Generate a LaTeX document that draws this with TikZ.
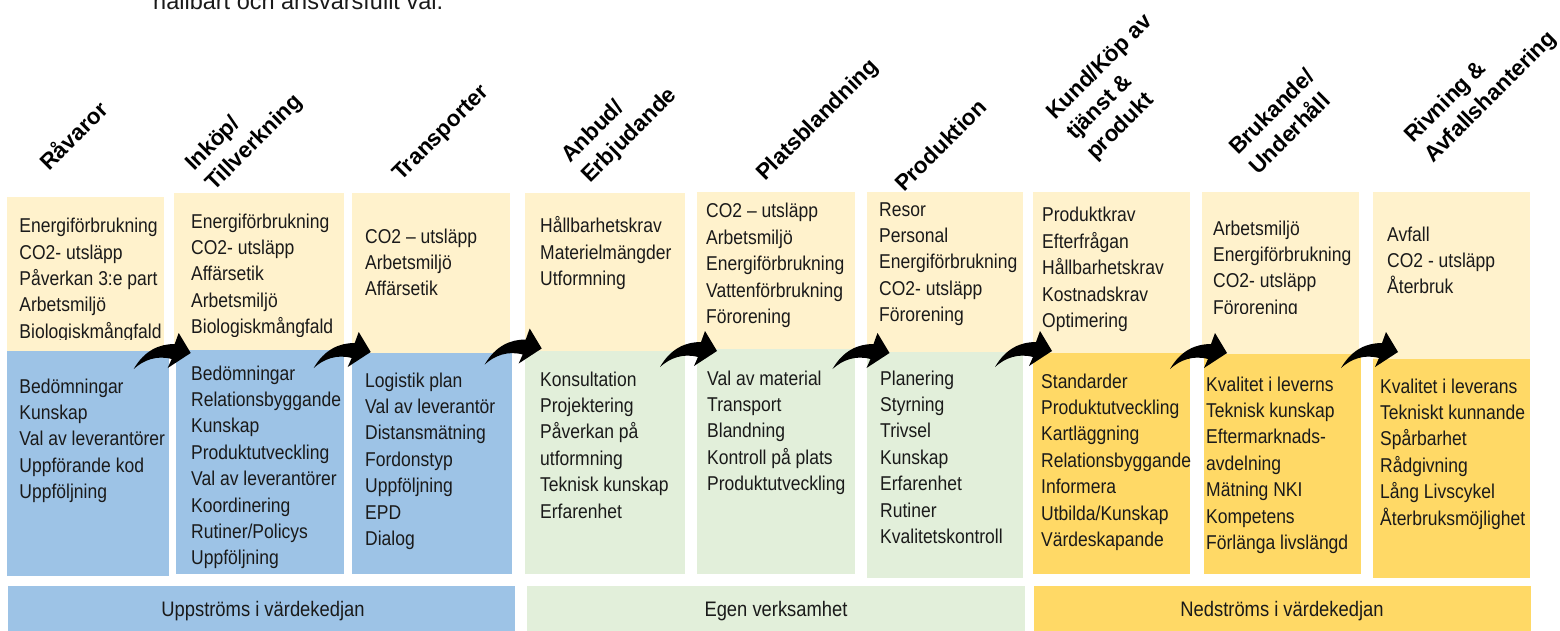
\documentclass[tikz,border=0pt]{standalone}
\usepackage{fontspec}
\setmainfont{Liberation Sans}[FakeStretch=0.875]
\newfontfamily\plainfont{Liberation Sans}
\definecolor{ylw}{HTML}{FFF2CC}
\definecolor{blu}{HTML}{9DC3E6}
\definecolor{grn}{HTML}{E2EFDA}
\definecolor{gld}{HTML}{FFD966}
\definecolor{ink}{HTML}{1A1A1A}
\newcommand\panel[6]{\node[panel, fill=#6, minimum width={(#4-#2)*1pt}, minimum height={(#5-#3)*1pt}] (#1) at (#2,#3) {};}
\newcommand\items[4]{\node[items] (#1) at (#2,#3) {\begin{tabular}[t]{@{}l@{}}#4\end{tabular}};}
\newcommand\curvedarrow[1]{\fill[arrowfill, shift={(#1)}] (-57,16) .. controls (-46,-3) and (-31,-9) .. (-16,-9) -- (-12,-20) -- (0,0) -- (-23,15) -- (-19,6) .. controls (-34,2) and (-47,7) .. (-57,16) -- cycle;}
\begin{document}
\begin{tikzpicture}[x=1pt,y=-1pt,
  panel/.style={rectangle, draw=none, inner sep=0pt, outer sep=0pt, anchor=north west},
  items/.style={anchor=base west, inner sep=0pt, text=ink, font=\fontsize{20}{26.4}\selectfont},
  hdr/.style={anchor=base west, inner sep=0pt, rotate=45, text=black, font=\plainfont\bfseries\fontsize{22.5}{28}\selectfont},
  band/.style={anchor=base, inner sep=0pt, text=ink, font=\fontsize{21}{25}\selectfont},
  arrowfill/.style={fill=black}]
\useasboundingbox[fill=white] (0,0) rectangle (1560,631);

% clipped caption at top
\node[anchor=base west, inner sep=0pt, text=ink, font=\plainfont\fontsize{23.5}{28}\selectfont] (caption) at (153,10) {hållbart och ansvarsfullt val.};

% headers
\node[hdr] (h1) at (49,172) {Råvaror};
\node[hdr] (h2a) at (194,172) {Inköp/};
\node[hdr] (h2b) at (214,192) {Tillverkning};
\node[hdr] (h3) at (401,182) {Transporter};
\node[hdr] (h4a) at (570,164) {Anbud/};
\node[hdr] (h4b) at (590,184) {Erbjudande};
\node[hdr] (h5) at (765,182) {Platsblandning};
\node[hdr] (h6) at (904,193) {Produktion};
\node[hdr] (h7a) at (1055,121) {Kund/Köp av};
\node[hdr] (h7b) at (1075,141) {tjänst \&};
\node[hdr] (h7c) at (1095,161) {produkt};
\node[hdr] (h8a) at (1238,156) {Brukande/};
\node[hdr] (h8b) at (1258,176) {Underhåll};
\node[hdr] (h9a) at (1413,144) {Rivning \&};
\node[hdr] (h9b) at (1433,164) {Avfallshantering};

% panels
\panel{p1y}{7}{197}{164}{351}{ylw}
\panel{p1b}{7}{351}{169}{576}{blu}
\panel{p2y}{174}{193}{344}{350}{ylw}
\panel{p2b}{176}{350}{344}{574}{blu}
\panel{p3y}{352}{193}{510}{353}{ylw}
\panel{p3b}{352}{353}{512}{574}{blu}
\panel{p4y}{525}{193}{685}{351}{ylw}
\panel{p4g}{525}{351}{685}{574}{grn}
\panel{p5y}{697}{192}{855}{349}{ylw}
\panel{p5g}{697}{349}{855}{574}{grn}
\panel{p6y}{867}{192}{1023}{352}{ylw}
\panel{p6g}{867}{352}{1023}{578}{grn}
\panel{p7y}{1033}{192}{1190}{353}{ylw}
\panel{p7g}{1033}{353}{1190}{574}{gld}
\panel{p8y}{1202}{192}{1359}{354}{ylw}
\panel{p8g}{1204}{354}{1361}{574}{gld}
\panel{p9y}{1373}{192}{1530}{359}{ylw}
\panel{p9g}{1373}{359}{1530}{578}{gld}

% bands
\panel{bu}{8}{586}{515}{631}{blu}
\panel{bm}{527}{586}{1025}{631}{grn}
\panel{bd}{1034}{586}{1531}{631}{gld}
\node[band] (tu) at (263,616) {Uppströms i värdekedjan};
\node[band] (tm) at (776,616) {Egen verksamhet};
\node[band] (td) at (1282,616) {Nedströms i värdekedjan};

% texts
\begin{scope}
\clip (0,0) rectangle (170,339);
\items{c1y}{19.3}{232.7}{Energiförbrukning\\CO2- utsläpp\\Påverkan 3:e part\\Arbetsmiljö\\Biologiskmångfald}
\end{scope}
\items{c1b}{19.3}{393}{Bedömningar\\Kunskap\\Val av leverantörer\\Uppförande kod\\Uppföljning}
\begin{scope}
\clip (170,0) rectangle (350,336);
\items{c2y}{191}{228}{Energiförbrukning\\CO2- utsläpp\\Affärsetik\\Arbetsmiljö\\Biologiskmångfald}
\end{scope}
\items{c2b}{191}{380}{Bedömningar\\Relationsbyggande\\Kunskap\\Produktutveckling\\Val av leverantörer\\Koordinering\\Rutiner/Policys\\Uppföljning}
\items{c3y}{365}{243}{CO2 – utsläpp\\Arbetsmiljö\\Affärsetik}
\items{c3b}{365}{387}{Logistik plan\\Val av leverantör\\Distansmätning\\Fordonstyp\\Uppföljning\\EPD\\Dialog}
\items{c4y}{540}{233}{Hållbarhetskrav\\Materielmängder\\Utformning}
\items{c4g}{540}{386}{Konsultation\\Projektering\\Påverkan på\\utformning\\Teknisk kunskap\\Erfarenhet}
\items{c5y}{706}{218}{CO2 – utsläpp\\Arbetsmiljö\\Energiförbrukning\\Vattenförbrukning\\Förorening}
\items{c5g}{707}{385}{Val av material\\Transport\\Blandning\\Kontroll på plats\\Produktutveckling}
\items{c6y}{879}{216}{Resor\\Personal\\Energiförbrukning\\CO2- utsläpp\\Förorening}
\items{c6g}{880}{385}{Planering\\Styrning\\Trivsel\\Kunskap\\Erfarenhet\\Rutiner\\Kvalitetskontroll}
\items{c7y}{1042}{222}{Produktkrav\\Efterfrågan\\Hållbarhetskrav\\Kostnadskrav\\Optimering}
\items{c7g}{1041}{388}{Standarder\\Produktutveckling\\Kartläggning\\Relationsbyggande\\Informera\\Utbilda/Kunskap\\Värdeskapande}
\begin{scope}
\clip (1200,0) rectangle (1365,313);
\items{c8y}{1213}{235}{Arbetsmiljö\\Energiförbrukning\\CO2- utsläpp\\Förorening}
\end{scope}
\items{c8g}{1206}{391}{Kvalitet i leverns\\Teknisk kunskap\\Eftermarknads-\\avdelning\\Mätning NKI\\Kompetens\\Förlänga livslängd}
\items{c9y}{1387}{241}{Avfall\\CO2 - utsläpp\\Återbruk}
\items{c9g}{1380}{393}{Kvalitet i leverans\\Tekniskt kunnande\\Spårbarhet\\Rådgivning\\Lång Livscykel\\Återbruksmöjlighet}

% curved arrows
\coordinate (t1) at (190.7,353);
\coordinate (t2) at (370.7,352);
\coordinate (t3) at (541.7,348.5);
\coordinate (t4) at (717,351);
\coordinate (t5) at (889.5,353);
\coordinate (t6) at (1052,351);
\coordinate (t7) at (1227,353);
\coordinate (t8) at (1398,352);
\curvedarrow{t1}
\curvedarrow{t2}
\curvedarrow{t3}
\curvedarrow{t4}
\curvedarrow{t5}
\curvedarrow{t6}
\curvedarrow{t7}
\curvedarrow{t8}
\end{tikzpicture}
\end{document}
